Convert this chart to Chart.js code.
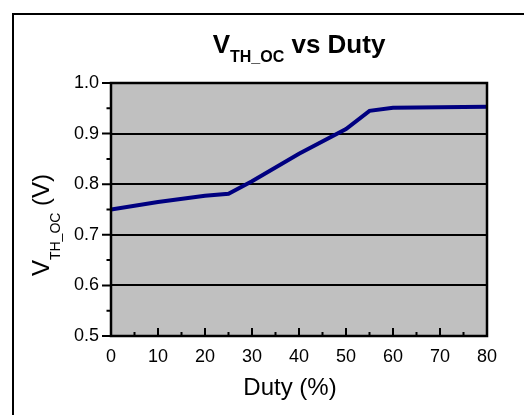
<!DOCTYPE html>
<html>
<head>
<meta charset="utf-8">
<title>VTH_OC vs Duty</title>
<script src="https://cdn.jsdelivr.net/npm/chart.js@4/dist/chart.umd.min.js"></script>
<style>
    html, body { margin: 0; padding: 0; background: #fff; }
    canvas { display: block; }
</style>
</head>
<body>
<canvas id="chart" width="524" height="415"></canvas>
<script>
// Values
const duty = [0, 10, 20, 25, 30, 40, 50, 55, 60, 70, 80];
const vthOc = [0.750, 0.765, 0.777, 0.781, 0.806, 0.860, 0.909, 0.945, 0.951, 0.952, 0.953];

const xTickValues = [0, 10, 20, 30, 40, 50, 60, 70, 80];
const yTickValues = [0.5, 0.6, 0.7, 0.8, 0.9, 1.0];

const FONT = "'Liberation Sans', Arial, sans-serif";

// draw a run of text pieces (for the subscripts), centred on x
function drawRichText(ctx, x, y, parts) {
    let total = 0;
    parts.forEach(p => {
        ctx.font = p.font;
        p.width = ctx.measureText(p.text).width;
        total += p.width;
    });
    let cx = x - total / 2;
    ctx.textAlign = 'left';
    ctx.textBaseline = 'alphabetic';
    parts.forEach(p => {
        ctx.font = p.font;
        ctx.fillText(p.text, cx, y + (p.dy || 0));
        cx += p.width;
    });
}

const framePlugin = {
    id: 'frame',
    beforeDraw(chart) {
        const { ctx, chartArea: a } = chart;
        ctx.save();
        ctx.fillStyle = '#c0c0c0';
        ctx.fillRect(a.left, a.top, a.right - a.left, a.bottom - a.top);

        // outer box, only its top and left edges are inside the picture
        ctx.strokeStyle = '#000';
        ctx.lineWidth = 2;
        ctx.beginPath();
        ctx.moveTo(13, chart.height);
        ctx.lineTo(13, 14);
        ctx.lineTo(chart.width, 14);
        ctx.stroke();
        ctx.restore();
    },
    afterDatasetsDraw(chart) {
        const { ctx, chartArea: a, scales } = chart;
        ctx.save();
        ctx.strokeStyle = '#000';
        ctx.lineWidth = 2.5;
        ctx.strokeRect(a.left, a.top, a.right - a.left, a.bottom - a.top);

        ctx.lineWidth = 2;
        ctx.beginPath();
        // y ticks point outwards, minor ones halfway
        yTickValues.forEach((v, i) => {
            const py = scales.y.getPixelForValue(v);
            ctx.moveTo(a.left - 9, py);
            ctx.lineTo(a.left, py);
            if (i < yTickValues.length - 1) {
                const my = scales.y.getPixelForValue((v + yTickValues[i + 1]) / 2);
                ctx.moveTo(a.left - 4.5, my);
                ctx.lineTo(a.left, my);
            }
        });
        // x ticks point into the plot
        xTickValues.forEach((v, i) => {
            const px = scales.x.getPixelForValue(v);
            ctx.moveTo(px, a.bottom);
            ctx.lineTo(px, a.bottom - 8);
            if (i < xTickValues.length - 1) {
                const mx = scales.x.getPixelForValue((v + xTickValues[i + 1]) / 2);
                ctx.moveTo(mx, a.bottom);
                ctx.lineTo(mx, a.bottom - 4);
            }
        });
        ctx.stroke();
        ctx.restore();
    },
    afterDraw(chart) {
        const { ctx, chartArea: a } = chart;
        ctx.save();
        ctx.fillStyle = '#000';

        drawRichText(ctx, (a.left + a.right) / 2, 53, [
            { text: 'V', font: 'bold 26px ' + FONT },
            { text: 'TH_OC', font: 'bold 16px ' + FONT, dy: 8.5 },
            { text: ' vs Duty', font: 'bold 26px ' + FONT }
        ]);

        drawRichText(ctx, 290, 395, [
            { text: 'Duty (%)', font: '24px ' + FONT }
        ]);

        ctx.translate(49, 225);
        ctx.rotate(-Math.PI / 2);
        drawRichText(ctx, 0, 0, [
            { text: 'V', font: '24px ' + FONT },
            { text: 'TH_OC', font: '14px ' + FONT, dy: 11 },
            { text: ' (V)', font: '24px ' + FONT }
        ]);
        ctx.restore();
    }
};

Chart.defaults.font.family = FONT;
Chart.defaults.color = '#000';

new Chart(document.getElementById('chart'), {
    type: 'line',
    data: {
        datasets: [{
            data: duty.map((d, i) => ({ x: d, y: vthOc[i] })),
            borderColor: '#000080',
            borderWidth: 4,
            pointRadius: 0,
            tension: 0,
            fill: false
        }]
    },
    options: {
        responsive: false,
        animation: false,
        layout: { padding: { top: 83, right: 37, left: 0, bottom: 0 } },
        plugins: {
            legend: { display: false },
            title: { display: false },
            tooltip: { enabled: false }
        },
        scales: {
            x: {
                type: 'linear',
                min: 0,
                max: 80,
                afterFit: scale => { scale.height = 79; },
                afterBuildTicks: scale => { scale.ticks = xTickValues.map(v => ({ value: v })); },
                ticks: {
                    font: { size: 18 },
                    color: '#000',
                    padding: 10,
                    maxRotation: 0,
                    callback: v => String(v)
                },
                grid: { display: false, drawTicks: false },
                border: { display: false }
            },
            y: {
                type: 'linear',
                min: 0.5,
                max: 1.0,
                afterFit: scale => { scale.width = 111; },
                afterBuildTicks: scale => { scale.ticks = yTickValues.map(v => ({ value: v })); },
                ticks: {
                    font: { size: 18 },
                    color: '#000',
                    padding: 12,
                    callback: v => Number(v).toFixed(1)
                },
                grid: { color: '#000', lineWidth: 2, drawTicks: false },
                border: { display: false }
            }
        }
    },
    plugins: [framePlugin]
});
</script>
</body>
</html>
